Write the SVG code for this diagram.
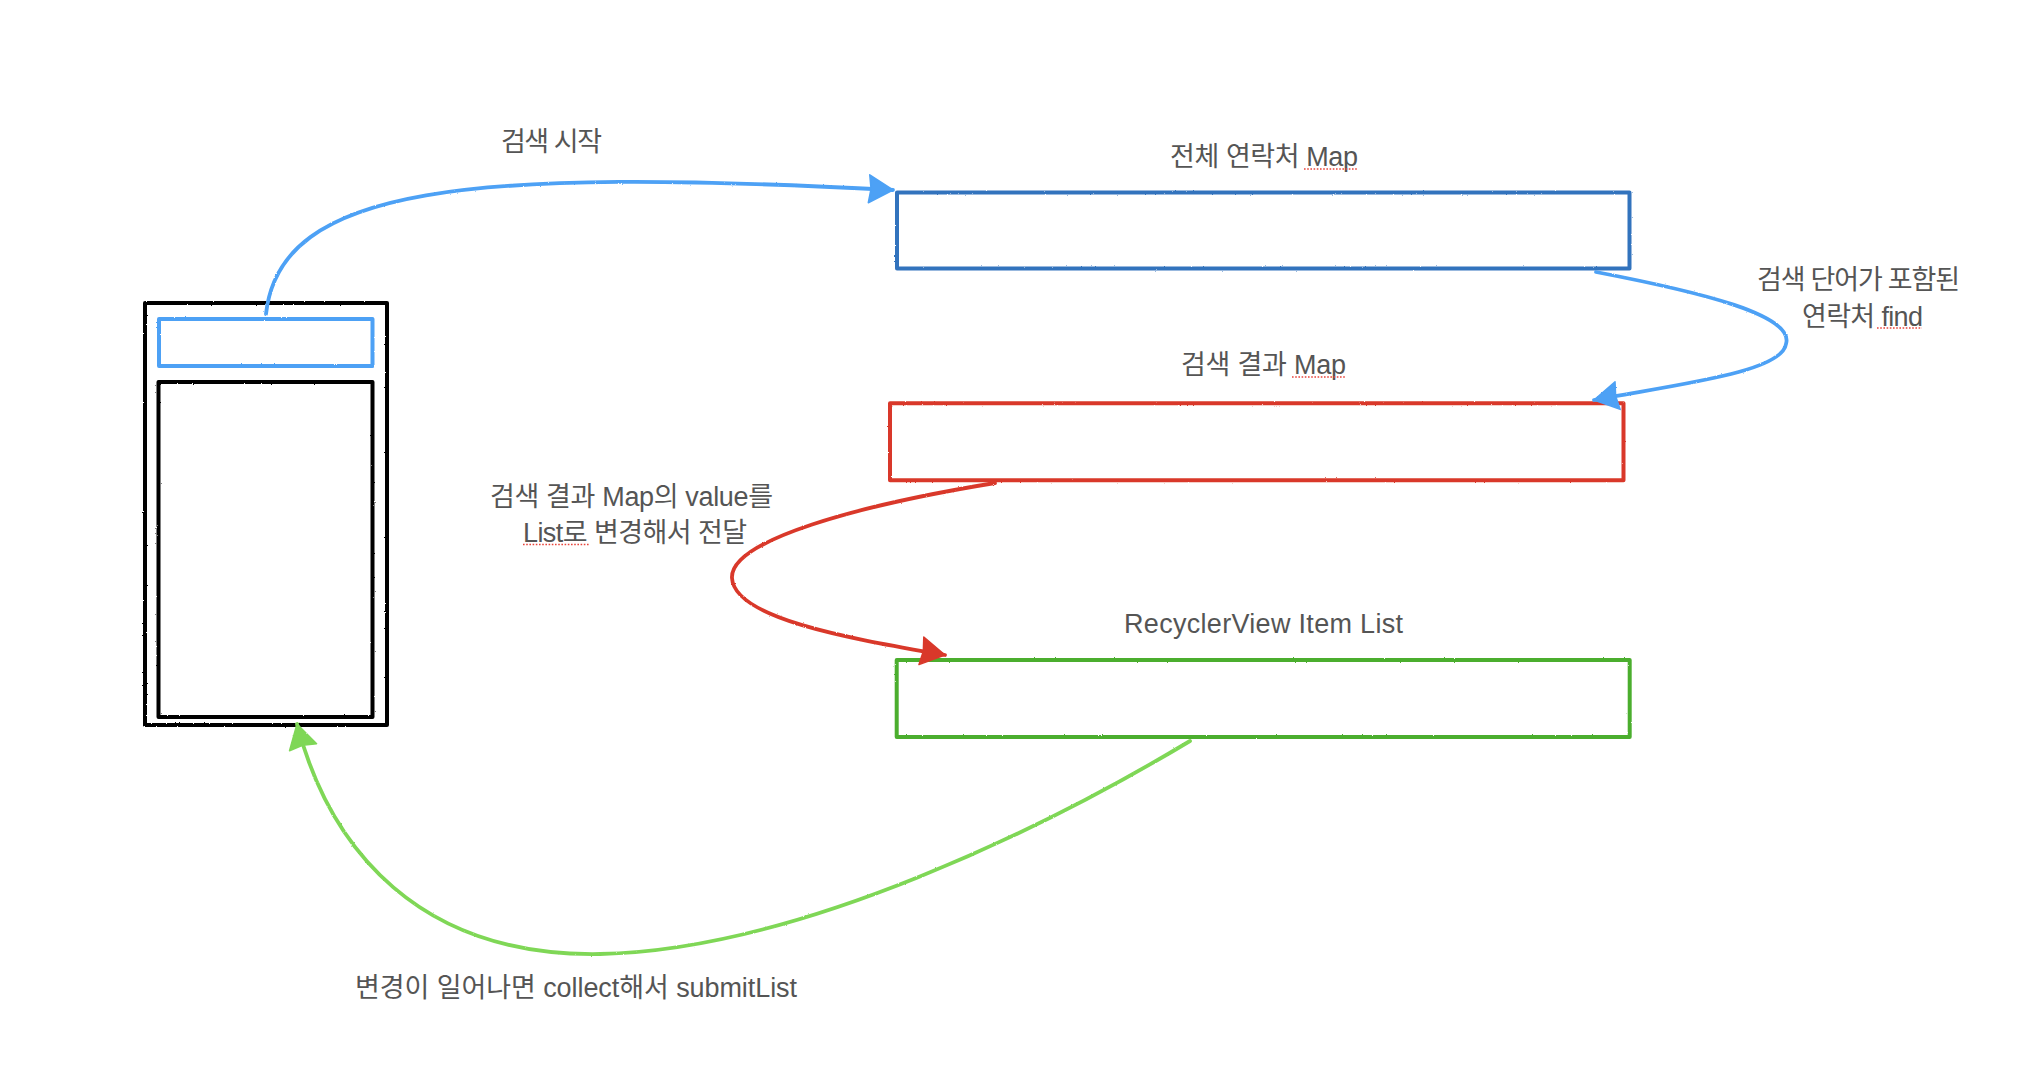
<svg xmlns="http://www.w3.org/2000/svg" width="2040" height="1076" viewBox="0 0 2040 1076">
  <style>
    .lbl { font-family: "Liberation Sans", "Noto Sans CJK KR", sans-serif; font-size: 27px; fill: #555555; }
    .box { fill: none; stroke-width: 4; stroke-linejoin: round; stroke-linecap: round; }
    .conn { fill: none; stroke-width: 3.8; stroke-linecap: round; }
    .spell { fill: none; stroke: #e8453c; stroke-width: 1.6; stroke-dasharray: 1.6 1.6; }
  </style>
  <defs>
    <filter id="rough" x="-5%" y="-5%" width="110%" height="110%">
      <feTurbulence type="fractalNoise" baseFrequency="0.9" numOctaves="2" seed="3" result="n"/>
      <feDisplacementMap in="SourceGraphic" in2="n" scale="1.8" xChannelSelector="R" yChannelSelector="G"/>
    </filter>
    <marker id="ahBlue" viewBox="-26 -16 28 32" refX="0" refY="0" markerWidth="28" markerHeight="32" markerUnits="userSpaceOnUse" orient="auto">
      <path d="M0,0 L-24,-14 L-22,0 L-24,14 Z" fill="#4da1f5" stroke="#4da1f5" stroke-width="1.5" stroke-linejoin="round"/>
    </marker>
    <marker id="ahRed" viewBox="-26 -16 28 32" refX="0" refY="0" markerWidth="28" markerHeight="32" markerUnits="userSpaceOnUse" orient="auto">
      <path d="M0,0 L-24,-14 L-22,0 L-24,14 Z" fill="#d9392a" stroke="#d9392a" stroke-width="1.5" stroke-linejoin="round"/>
    </marker>
    <marker id="ahGreen" viewBox="-26 -16 28 32" refX="0" refY="0" markerWidth="28" markerHeight="32" markerUnits="userSpaceOnUse" orient="auto">
      <path d="M0,0 L-24,-14 L-22,0 L-24,14 Z" fill="#7fd757" stroke="#7fd757" stroke-width="1.5" stroke-linejoin="round"/>
    </marker>
  </defs>
  <rect width="2040" height="1076" fill="#ffffff"/>

  <g id="phone" filter="url(#rough)">
    <rect class="box" x="145" y="303" width="242" height="422" stroke="#000000"/>
    <rect class="box" x="158.5" y="382" width="214" height="335" stroke="#000000"/>
  </g>
  <g id="search-bar" filter="url(#rough)">
    <rect class="box" x="159" y="319" width="213.5" height="47" stroke="#4da1f5"/>
  </g>

  <g id="all-contacts-map">
    <rect class="box" x="897" y="192.5" width="732.5" height="76" stroke="#3373bd" filter="url(#rough)"/>
    <text class="lbl" x="1170" y="166" textLength="188">전체 연락처 Map</text>
    <line class="spell" x1="1304" y1="169" x2="1357" y2="169"/>
  </g>

  <g id="search-result-map">
    <rect class="box" x="890" y="403.3" width="733.5" height="77" stroke="#d9392a" filter="url(#rough)"/>
    <text class="lbl" x="1181" y="374" textLength="165">검색 결과 Map</text>
    <line class="spell" x1="1292" y1="377" x2="1345" y2="377"/>
  </g>

  <g id="recyclerview-item-list">
    <rect class="box" x="896.7" y="660" width="733" height="77" stroke="#4cae2f" filter="url(#rough)"/>
    <text class="lbl" x="1124" y="633" textLength="279">RecyclerView Item List</text>
  </g>

  <g id="connectors">
    <g filter="url(#rough)">
      <path class="conn" stroke="#4da1f5" d="M266,314 C280,185 470,168 893,190" marker-end="url(#ahBlue)"/>
      <path class="conn" stroke="#4da1f5" d="M1596,272 C1700,292 1795,315 1786,344 C1782,372 1680,384 1594,400" marker-end="url(#ahBlue)"/>
      <path class="conn" stroke="#d9392a" d="M995,483 C860,505 730,540 732,578 C734,620 860,640 945,655" marker-end="url(#ahRed)"/>
      <path class="conn" stroke="#7fd757" d="M1190,741 C1050,825 800,950 600,954 C420,957 330,850 297,724" marker-end="url(#ahGreen)"/>
    </g>
    <text class="lbl" x="501" y="151" textLength="101">검색 시작</text>
    <text class="lbl" x="1757" y="289" textLength="203">검색 단어가 포함된</text>
    <text class="lbl" x="1802" y="325.5" textLength="121">연락처 find</text>
    <line class="spell" x1="1877" y1="328" x2="1922" y2="328"/>
    <text class="lbl" x="490" y="506" textLength="283">검색 결과 Map의 value를</text>
    <text class="lbl" x="523" y="541.5" textLength="224">List로 변경해서 전달</text>
    <line class="spell" x1="523" y1="544.5" x2="590" y2="544.5"/>
    <text class="lbl" x="355" y="997" textLength="442">변경이 일어나면 collect해서 submitList</text>
  </g>
</svg>
